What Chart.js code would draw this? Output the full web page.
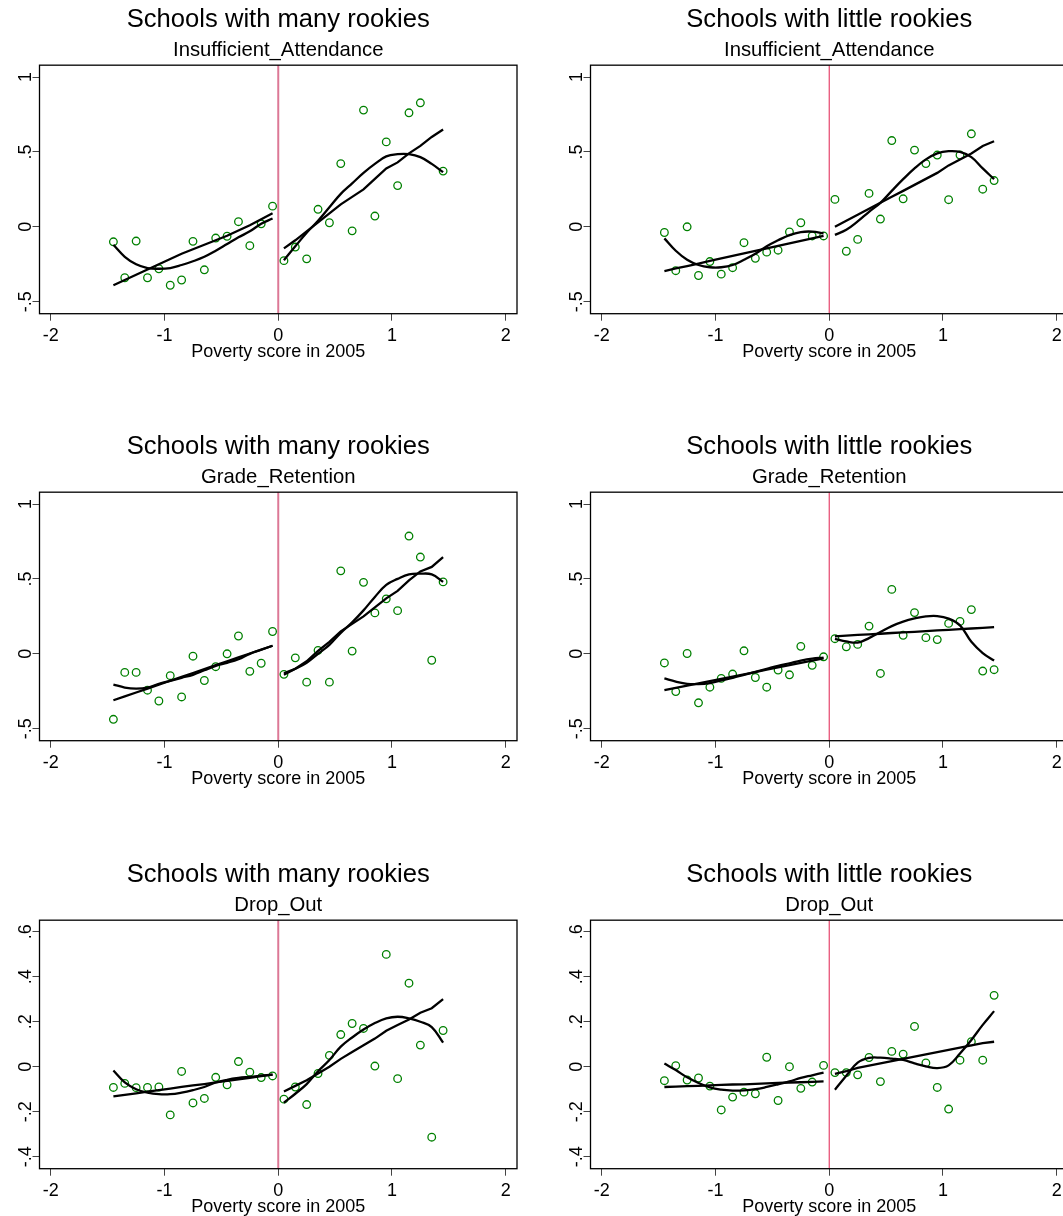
<!DOCTYPE html>
<html>
<head>
<meta charset="utf-8">
<script src="https://cdn.jsdelivr.net/npm/chart.js@4.4.1/dist/chart.umd.min.js"></script>
<style>
  body { margin: 0; background: #fff; }
  #wrap { position: relative; width: 1063px; height: 1216px; overflow: hidden; }
  canvas { position: absolute; }
</style>
</head>
<body>
<div id="wrap">
  <canvas id="p1" width="537" height="370" style="left:0;top:0"></canvas>
  <canvas id="p2" width="537" height="370" style="left:551px;top:0"></canvas>
  <canvas id="p3" width="537" height="370" style="left:0;top:427px"></canvas>
  <canvas id="p4" width="537" height="370" style="left:551px;top:427px"></canvas>
  <canvas id="p5" width="537" height="370" style="left:0;top:855px"></canvas>
  <canvas id="p6" width="537" height="370" style="left:551px;top:855px"></canvas>
</div>
<script>
// bins of the poverty score, either side of the cutoff
const binsLeft = [-1.45, -1.35, -1.25, -1.15, -1.05, -0.95, -0.85, -0.75, -0.65, -0.55, -0.45, -0.35, -0.25, -0.15, -0.05];
const binsRight = [0.05, 0.15, 0.25, 0.35, 0.45, 0.55, 0.65, 0.75, 0.85, 0.95, 1.05, 1.15, 1.25, 1.35, 1.45];
const cutoff = 0;

const groupTitles = ['Schools with many rookies', 'Schools with little rookies'];
const outcomes = ['Insufficient_Attendance', 'Grade_Retention', 'Drop_Out'];
const xTitle = 'Poverty score in 2005';
const xTicks = [-2, -1, 0, 1, 2];
const yTicksRate = [-0.5, 0, 0.5, 1];
const yTicksDrop = [-0.4, -0.2, 0, 0.2, 0.4, 0.6];

// Insufficient_Attendance, many rookies
const attManyPtsL = [-0.10, -0.34, -0.095, -0.34, -0.28, -0.39, -0.355, -0.097, -0.287, -0.075, -0.063, 0.034, -0.126, 0.02, 0.138];
const attManyPtsR = [-0.226, -0.135, -0.214, 0.117, 0.027, 0.422, -0.027, 0.779, 0.072, 0.567, 0.275, 0.761, 0.828, null, 0.372];
const attManyLinL = [-0.39, -0.355, -0.32, -0.285, -0.25, -0.215, -0.18, -0.15, -0.12, -0.09, -0.06, -0.025, 0.01, 0.05, 0.09];
const attManyLinR = [-0.144, -0.09, -0.03, 0.03, 0.09, 0.15, 0.2, 0.25, 0.32, 0.39, 0.43, 0.49, 0.54, 0.6, 0.65];
const attManySmL = [-0.12, -0.2, -0.25, -0.275, -0.28, -0.275, -0.255, -0.23, -0.2, -0.16, -0.115, -0.07, -0.03, 0.02, 0.055];
const attManySmR = [-0.223, -0.13, -0.04, 0.04, 0.13, 0.22, 0.29, 0.36, 0.42, 0.47, 0.485, 0.485, 0.465, 0.42, 0.365];

// Insufficient_Attendance, little rookies
const attFewPtsL = [-0.038, -0.293, 0.0, -0.325, -0.232, -0.316, -0.273, -0.106, -0.21, -0.169, -0.156, -0.034, 0.027, -0.061, -0.061];
const attFewPtsR = [0.183, -0.163, -0.084, 0.223, 0.052, 0.576, 0.187, 0.512, 0.422, 0.479, 0.181, 0.479, 0.621, 0.251, 0.309];
const attFewLinL = [-0.295, -0.278, -0.262, -0.245, -0.228, -0.211, -0.194, -0.178, -0.161, -0.144, -0.127, -0.11, -0.094, -0.077, -0.06];
const attFewLinR = [0.0, 0.04, 0.08, 0.12, 0.16, 0.2, 0.24, 0.28, 0.32, 0.36, 0.41, 0.45, 0.49, 0.54, 0.571];
const attFewSmL = [-0.077, -0.16, -0.22, -0.255, -0.27, -0.27, -0.255, -0.22, -0.18, -0.13, -0.09, -0.055, -0.035, -0.032, -0.043];
const attFewSmR = [-0.054, -0.02, 0.036, 0.1, 0.16, 0.24, 0.318, 0.39, 0.45, 0.49, 0.505, 0.5, 0.465, 0.39, 0.318];

// Grade_Retention, many rookies
const retManyPtsL = [-0.437, -0.124, -0.124, -0.243, -0.315, -0.146, -0.288, -0.016, -0.178, -0.086, 0.0, 0.119, -0.117, -0.063, 0.149];
const retManyPtsR = [-0.137, -0.027, -0.189, 0.023, -0.189, 0.554, 0.018, 0.477, 0.273, 0.367, 0.288, 0.786, 0.646, -0.043, 0.48];
const retManyLinL = [-0.31, -0.284, -0.258, -0.232, -0.206, -0.18, -0.154, -0.128, -0.102, -0.076, -0.05, -0.024, 0.002, 0.028, 0.054];
const retManyLinR = [-0.14, -0.1, -0.05, 0.02, 0.08, 0.15, 0.2, 0.25, 0.31, 0.37, 0.42, 0.49, 0.55, 0.58, 0.646];
const retManySmL = [-0.205, -0.225, -0.232, -0.225, -0.2, -0.18, -0.16, -0.14, -0.11, -0.08, -0.06, -0.036, 0.0, 0.027, 0.054];
const retManySmR = [-0.13, -0.1, -0.06, 0.0, 0.06, 0.14, 0.21, 0.29, 0.38, 0.46, 0.5, 0.53, 0.535, 0.53, 0.48];

// Grade_Retention, little rookies
const retFewPtsL = [-0.061, -0.252, 0.002, -0.327, -0.223, -0.164, -0.135, 0.02, -0.158, -0.223, -0.108, -0.14, 0.05, -0.077, -0.02];
const retFewPtsR = [0.101, 0.047, 0.063, 0.185, -0.131, 0.43, 0.124, 0.275, 0.108, 0.095, 0.203, 0.216, 0.295, -0.115, -0.106];
const retFewLinL = [-0.243, -0.228, -0.213, -0.198, -0.183, -0.167, -0.152, -0.137, -0.122, -0.106, -0.091, -0.076, -0.06, -0.045, -0.03];
const retFewLinR = [0.117, 0.121, 0.126, 0.13, 0.134, 0.139, 0.143, 0.147, 0.152, 0.156, 0.16, 0.165, 0.169, 0.173, 0.178];
const retFewSmL = [-0.164, -0.185, -0.2, -0.202, -0.195, -0.178, -0.16, -0.14, -0.12, -0.1, -0.08, -0.063, -0.045, -0.032, -0.025];
const retFewSmR = [0.1, 0.083, 0.075, 0.105, 0.145, 0.185, 0.215, 0.236, 0.25, 0.252, 0.235, 0.19, 0.08, 0.005, -0.045];

// Drop_Out, many rookies
const dropManyPtsL = [-0.092, -0.074, -0.093, -0.092, -0.09, -0.214, -0.021, -0.161, -0.141, -0.047, -0.08, 0.023, -0.024, -0.048, -0.041];
const dropManyPtsR = [-0.144, -0.09, -0.168, -0.03, 0.05, 0.143, 0.192, 0.17, 0.003, 0.499, -0.053, 0.371, 0.096, -0.313, 0.161];
const dropManyLinL = [-0.132, -0.125, -0.118, -0.111, -0.104, -0.097, -0.09, -0.083, -0.077, -0.07, -0.063, -0.056, -0.049, -0.042, -0.035];
const dropManyLinR = [-0.11, -0.085, -0.06, -0.03, 0.0, 0.035, 0.065, 0.095, 0.125, 0.16, 0.185, 0.21, 0.24, 0.26, 0.3];
const dropManySmL = [-0.017, -0.07, -0.1, -0.115, -0.122, -0.122, -0.115, -0.104, -0.09, -0.07, -0.058, -0.05, -0.045, -0.04, -0.035];
const dropManySmR = [-0.16, -0.12, -0.077, -0.02, 0.03, 0.089, 0.13, 0.165, 0.194, 0.215, 0.222, 0.215, 0.2, 0.176, 0.107];

// Drop_Out, little rookies
const dropFewPtsL = [-0.062, 0.005, -0.059, -0.05, -0.086, -0.192, -0.135, -0.113, -0.12, 0.042, -0.15, 0.0, -0.096, -0.068, 0.006];
const dropFewPtsR = [-0.026, -0.026, -0.036, 0.041, -0.066, 0.068, 0.056, 0.179, 0.017, -0.092, -0.188, 0.029, 0.111, 0.029, 0.317];
const dropFewLinL = [-0.09, -0.088, -0.086, -0.085, -0.083, -0.081, -0.079, -0.078, -0.076, -0.074, -0.072, -0.07, -0.069, -0.067, -0.065];
const dropFewLinR = [-0.032, -0.02, -0.005, 0.005, 0.015, 0.025, 0.035, 0.045, 0.055, 0.065, 0.075, 0.085, 0.095, 0.105, 0.111];
const dropFewSmL = [0.014, -0.015, -0.047, -0.072, -0.092, -0.102, -0.106, -0.105, -0.1, -0.09, -0.078, -0.065, -0.05, -0.038, -0.026];
const dropFewSmR = [-0.102, -0.04, 0.018, 0.039, 0.04, 0.036, 0.03, 0.015, 0.002, -0.006, 0.006, 0.059, 0.119, 0.186, 0.247];

const FONT = "'Liberation Sans', Arial, sans-serif";
const GREEN = 'rgb(0,128,0)';

function xy(xs, ys) {
  const out = [];
  xs.forEach((x, i) => { if (ys[i] !== null) out.push({ x: x, y: ys[i] }); });
  return out;
}

// stata style labels: .5, -.5, .2 ...
function stataNum(v) {
  const r = Math.round(v * 100) / 100;
  return String(r).replace('0.', '.');
}

const frame = {
  id: 'frame',
  beforeDatasetsDraw(chart, args, opts) {
    const { ctx, chartArea: a, scales: { x } } = chart;
    const px = x.getPixelForValue(cutoff);
    ctx.save();
    ctx.strokeStyle = opts.color;
    ctx.lineWidth = opts.width;
    ctx.beginPath();
    ctx.moveTo(px, a.top);
    ctx.lineTo(px, a.bottom);
    ctx.stroke();
    ctx.restore();
  },
  afterDraw(chart) {
    const { ctx, chartArea: a } = chart;
    ctx.save();
    ctx.strokeStyle = '#000';
    ctx.lineWidth = 1.3;
    ctx.strokeRect(a.left, a.top, a.right - a.left, a.bottom - a.top);
    ctx.restore();
  }
};

function lineSet(data, tension) {
  return {
    data: data, showLine: true, pointRadius: 0, borderColor: '#000',
    borderWidth: 2.3, tension: tension, fill: false
  };
}

function panel(id, group, outcome, ptsL, ptsR, linL, linR, smL, smR, yTicks, yMin, yMax) {
  const rightCol = group === 1;
  new Chart(document.getElementById(id), {
    type: 'scatter',
    data: {
      datasets: [
        lineSet(xy(binsLeft, linL), 0),
        lineSet(xy(binsRight, linR), 0),
        lineSet(xy(binsLeft, smL), 0.4),
        lineSet(xy(binsRight, smR), 0.4),
        {
          data: xy(binsLeft, ptsL).concat(xy(binsRight, ptsR)),
          pointStyle: 'circle', pointRadius: 3.8, borderWidth: 1.3,
          borderColor: GREEN, backgroundColor: 'rgba(0,0,0,0)'
        }
      ]
    },
    options: {
      responsive: false,
      animation: false,
      devicePixelRatio: 1,
      layout: { padding: { left: 0, right: 20, top: 0, bottom: 0 } },
      plugins: {
        legend: { display: false },
        tooltip: { enabled: false },
        title: {
          display: true, fullSize: false, text: groupTitles[group], color: '#000',
          font: { family: FONT, size: 25.6, weight: 'normal' },
          padding: { top: 4.9, bottom: 1 }
        },
        subtitle: {
          display: true, fullSize: false, text: outcomes[outcome], color: '#000',
          font: { family: FONT, size: 20.3, weight: 'normal' },
          padding: { top: 1.2, bottom: 3 }
        },
        frame: rightCol ? { color: '#e6456c', width: 1.2 } : { color: '#dc7896', width: 2 }
      },
      scales: {
        x: {
          type: 'linear', min: -2.1, max: 2.1,
          afterBuildTicks: s => { s.ticks = xTicks.map(v => ({ value: v })); },
          afterFit: s => { s.height = 56.3; },
          grid: { drawOnChartArea: false, drawTicks: true, tickLength: 7, tickColor: '#444', tickWidth: 1 },
          border: { display: false },
          ticks: { color: '#000', padding: 5, font: { family: FONT, size: 18 }, callback: v => stataNum(v) },
          title: { display: true, text: xTitle, color: '#000', font: { family: FONT, size: 18 }, padding: { top: 0, bottom: 7 } }
        },
        y: {
          type: 'linear', min: yMin, max: yMax,
          afterBuildTicks: s => { s.ticks = yTicks.map(v => ({ value: v })); },
          afterFit: s => { s.width = 39.5; },
          grid: { drawOnChartArea: false, drawTicks: true, tickLength: 7, tickColor: '#444', tickWidth: 1 },
          border: { display: false },
          ticks: {
            color: '#000', padding: -4, minRotation: 90, maxRotation: 90, crossAlign: 'center',
            font: { family: FONT, size: 18 }, callback: v => stataNum(v)
          }
        }
      }
    },
    plugins: [frame]
  });
}

panel('p1', 0, 0, attManyPtsL, attManyPtsR, attManyLinL, attManyLinR, attManySmL, attManySmR, yTicksRate, -0.58, 1.079);
panel('p2', 1, 0, attFewPtsL, attFewPtsR, attFewLinL, attFewLinR, attFewSmL, attFewSmR, yTicksRate, -0.58, 1.079);
panel('p3', 0, 1, retManyPtsL, retManyPtsR, retManyLinL, retManyLinR, retManySmL, retManySmR, yTicksRate, -0.58, 1.079);
panel('p4', 1, 1, retFewPtsL, retFewPtsR, retFewLinL, retFewLinR, retFewSmL, retFewSmR, yTicksRate, -0.58, 1.079);
panel('p5', 0, 2, dropManyPtsL, dropManyPtsR, dropManyLinL, dropManyLinR, dropManySmL, dropManySmR, yTicksDrop, -0.453, 0.651);
panel('p6', 1, 2, dropFewPtsL, dropFewPtsR, dropFewLinL, dropFewLinR, dropFewSmL, dropFewSmR, yTicksDrop, -0.453, 0.651);
</script>
</body>
</html>
